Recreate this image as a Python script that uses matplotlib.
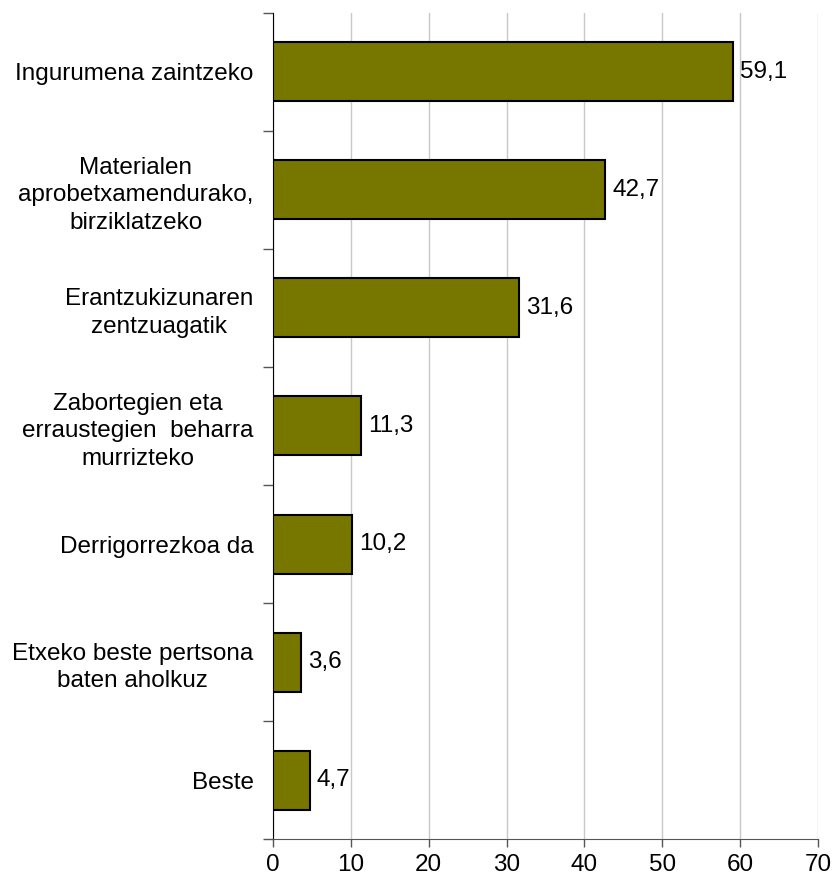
import numpy as np
import matplotlib.pyplot as plt

plt.rcParams['font.family'] = ['Liberation Sans', 'DejaVu Sans']

categories = [
    "Ingurumena zaintzeko",
    "Materialen\naprobetxamendurako,\nbirziklatzeko",
    "Erantzukizunaren\nzentzuagatik",
    "Zabortegien eta\nerraustegien  beharra\nmurrizteko",
    "Derrigorrezkoa da",
    "Etxeko beste pertsona\nbaten aholkuz",
    "Beste",
]
values = [59.1, 42.7, 31.6, 11.3, 10.2, 3.6, 4.7]
x_ticks = [0, 10, 20, 30, 40, 50, 60, 70]

fs = 17.5
fig = plt.figure(figsize=(8.33, 8.84), dpi=100)
ax = fig.add_axes([0.3277, 0.0509, 0.6543, 0.9344])

y = np.arange(len(categories))
ax.barh(y, values, height=0.5, color="#777700", edgecolor="black", linewidth=1.5, zorder=3)

for yi, v in zip(y, values):
    ax.text(v + 0.9, yi, f"{v:.1f}".replace(".", ","), va="center", ha="left", fontsize=fs)

ax.set_xlim(0, 70)
ax.set_ylim(len(categories) - 0.5, -0.5)
ax.set_xticks(x_ticks)
ax.set_xticklabels([str(t) for t in x_ticks], fontsize=fs)
ax.xaxis.grid(True, color="#c8c8c8", linewidth=1, zorder=0)

ax.set_yticks(y)
ax.set_yticklabels(categories, fontsize=fs, multialignment="center", ha="right",
                   linespacing=1.35)
ax.tick_params(axis="y", which="major", length=0, pad=14)
ax.set_yticks(np.arange(len(categories) + 1) - 0.5, minor=True)
ax.tick_params(axis="y", which="minor", length=7, width=1, color="#555555")
ax.tick_params(axis="x", length=6, width=1, color="#555555", pad=5)

for s in ["top", "right"]:
    ax.spines[s].set_visible(False)
ax.spines["left"].set_color("black")
ax.spines["bottom"].set_color("#555555")

fig.savefig("out.png", dpi=100)
